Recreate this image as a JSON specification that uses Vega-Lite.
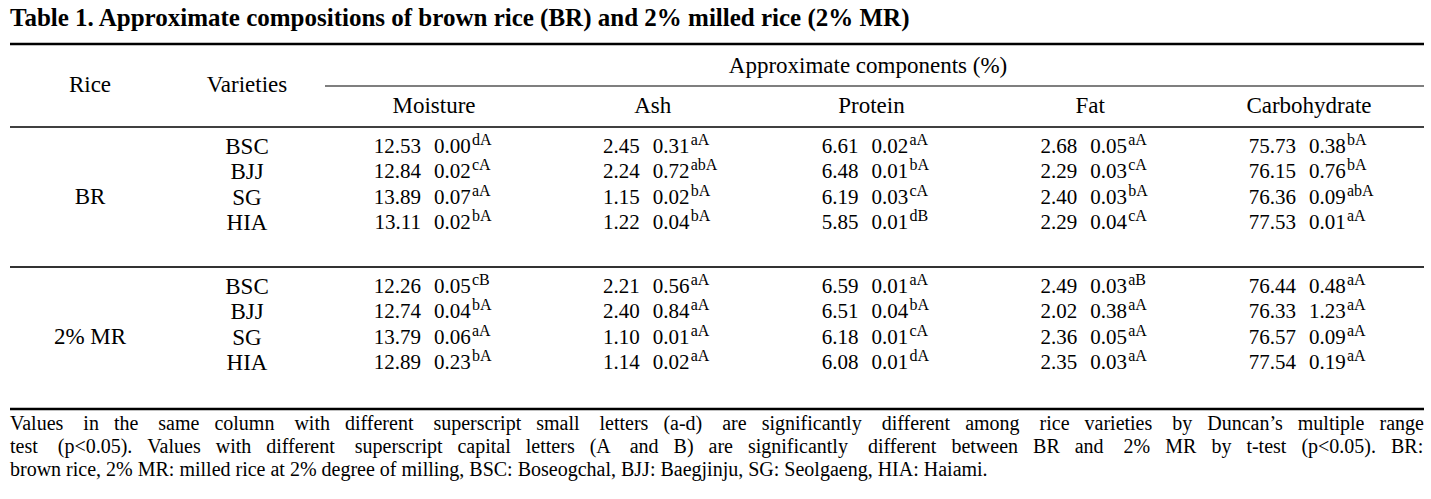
{
  "$schema": "https://vega.github.io/schema/vega-lite/v6.json",
  "width": 1431,
  "height": 499,
  "autosize": {"type": "fit", "contains": "padding"},
  "padding": 0,
  "background": "white",
  "config": {
    "view": {"stroke": null},
    "text": {"font": "Liberation Serif", "fontSize": 23, "color": "black"}
  },
  "datasets": {
    "cells": [
      {"rice": "BR", "variety": "BSC", "component": "Moisture", "mean": 12.53, "sd": 0.00, "sig": "dA"},
      {"rice": "BR", "variety": "BSC", "component": "Ash", "mean": 2.45, "sd": 0.31, "sig": "aA"},
      {"rice": "BR", "variety": "BSC", "component": "Protein", "mean": 6.61, "sd": 0.02, "sig": "aA"},
      {"rice": "BR", "variety": "BSC", "component": "Fat", "mean": 2.68, "sd": 0.05, "sig": "aA"},
      {"rice": "BR", "variety": "BSC", "component": "Carbohydrate", "mean": 75.73, "sd": 0.38, "sig": "bA"},
      {"rice": "BR", "variety": "BJJ", "component": "Moisture", "mean": 12.84, "sd": 0.02, "sig": "cA"},
      {"rice": "BR", "variety": "BJJ", "component": "Ash", "mean": 2.24, "sd": 0.72, "sig": "abA"},
      {"rice": "BR", "variety": "BJJ", "component": "Protein", "mean": 6.48, "sd": 0.01, "sig": "bA"},
      {"rice": "BR", "variety": "BJJ", "component": "Fat", "mean": 2.29, "sd": 0.03, "sig": "cA"},
      {"rice": "BR", "variety": "BJJ", "component": "Carbohydrate", "mean": 76.15, "sd": 0.76, "sig": "bA"},
      {"rice": "BR", "variety": "SG", "component": "Moisture", "mean": 13.89, "sd": 0.07, "sig": "aA"},
      {"rice": "BR", "variety": "SG", "component": "Ash", "mean": 1.15, "sd": 0.02, "sig": "bA"},
      {"rice": "BR", "variety": "SG", "component": "Protein", "mean": 6.19, "sd": 0.03, "sig": "cA"},
      {"rice": "BR", "variety": "SG", "component": "Fat", "mean": 2.40, "sd": 0.03, "sig": "bA"},
      {"rice": "BR", "variety": "SG", "component": "Carbohydrate", "mean": 76.36, "sd": 0.09, "sig": "abA"},
      {"rice": "BR", "variety": "HIA", "component": "Moisture", "mean": 13.11, "sd": 0.02, "sig": "bA"},
      {"rice": "BR", "variety": "HIA", "component": "Ash", "mean": 1.22, "sd": 0.04, "sig": "bA"},
      {"rice": "BR", "variety": "HIA", "component": "Protein", "mean": 5.85, "sd": 0.01, "sig": "dB"},
      {"rice": "BR", "variety": "HIA", "component": "Fat", "mean": 2.29, "sd": 0.04, "sig": "cA"},
      {"rice": "BR", "variety": "HIA", "component": "Carbohydrate", "mean": 77.53, "sd": 0.01, "sig": "aA"},
      {"rice": "2% MR", "variety": "BSC", "component": "Moisture", "mean": 12.26, "sd": 0.05, "sig": "cB"},
      {"rice": "2% MR", "variety": "BSC", "component": "Ash", "mean": 2.21, "sd": 0.56, "sig": "aA"},
      {"rice": "2% MR", "variety": "BSC", "component": "Protein", "mean": 6.59, "sd": 0.01, "sig": "aA"},
      {"rice": "2% MR", "variety": "BSC", "component": "Fat", "mean": 2.49, "sd": 0.03, "sig": "aB"},
      {"rice": "2% MR", "variety": "BSC", "component": "Carbohydrate", "mean": 76.44, "sd": 0.48, "sig": "aA"},
      {"rice": "2% MR", "variety": "BJJ", "component": "Moisture", "mean": 12.74, "sd": 0.04, "sig": "bA"},
      {"rice": "2% MR", "variety": "BJJ", "component": "Ash", "mean": 2.40, "sd": 0.84, "sig": "aA"},
      {"rice": "2% MR", "variety": "BJJ", "component": "Protein", "mean": 6.51, "sd": 0.04, "sig": "bA"},
      {"rice": "2% MR", "variety": "BJJ", "component": "Fat", "mean": 2.02, "sd": 0.38, "sig": "aA"},
      {"rice": "2% MR", "variety": "BJJ", "component": "Carbohydrate", "mean": 76.33, "sd": 1.23, "sig": "aA"},
      {"rice": "2% MR", "variety": "SG", "component": "Moisture", "mean": 13.79, "sd": 0.06, "sig": "aA"},
      {"rice": "2% MR", "variety": "SG", "component": "Ash", "mean": 1.10, "sd": 0.01, "sig": "aA"},
      {"rice": "2% MR", "variety": "SG", "component": "Protein", "mean": 6.18, "sd": 0.01, "sig": "cA"},
      {"rice": "2% MR", "variety": "SG", "component": "Fat", "mean": 2.36, "sd": 0.05, "sig": "aA"},
      {"rice": "2% MR", "variety": "SG", "component": "Carbohydrate", "mean": 76.57, "sd": 0.09, "sig": "aA"},
      {"rice": "2% MR", "variety": "HIA", "component": "Moisture", "mean": 12.89, "sd": 0.23, "sig": "bA"},
      {"rice": "2% MR", "variety": "HIA", "component": "Ash", "mean": 1.14, "sd": 0.02, "sig": "aA"},
      {"rice": "2% MR", "variety": "HIA", "component": "Protein", "mean": 6.08, "sd": 0.01, "sig": "dA"},
      {"rice": "2% MR", "variety": "HIA", "component": "Fat", "mean": 2.35, "sd": 0.03, "sig": "aA"},
      {"rice": "2% MR", "variety": "HIA", "component": "Carbohydrate", "mean": 77.54, "sd": 0.19, "sig": "aA"}
    ],
    "components": [
      {"component": "Moisture"},
      {"component": "Ash"},
      {"component": "Protein"},
      {"component": "Fat"},
      {"component": "Carbohydrate"}
    ],
    "rices": [{"rice": "BR"}, {"rice": "2% MR"}],
    "one": [{}]
  },
  "layer": [
    {
      "data": {"name": "one"},
      "mark": {"type": "text", "text": "Table 1. Approximate compositions of brown rice (BR) and 2% milled rice (2% MR)", "align": "left", "fontWeight": "bold", "fontSize": 25},
      "encoding": {"x": {"value": 10}, "y": {"value": 18}}
    },
    {
      "data": {"name": "one"},
      "mark": {"type": "rule", "color": "black", "strokeWidth": 2.5},
      "encoding": {"x": {"value": 10}, "x2": {"value": 1424}, "y": {"value": 44}}
    },
    {
      "data": {"name": "one"},
      "mark": {"type": "rule", "color": "black", "strokeWidth": 1.2},
      "encoding": {"x": {"value": 325}, "x2": {"value": 1424}, "y": {"value": 86}}
    },
    {
      "data": {"name": "one"},
      "mark": {"type": "rule", "color": "black", "strokeWidth": 1.5},
      "encoding": {"x": {"value": 10}, "x2": {"value": 1424}, "y": {"value": 127}}
    },
    {
      "data": {"name": "one"},
      "mark": {"type": "rule", "color": "#333333", "strokeWidth": 2},
      "encoding": {"x": {"value": 10}, "x2": {"value": 1424}, "y": {"value": 267}}
    },
    {
      "data": {"name": "one"},
      "mark": {"type": "rule", "color": "black", "strokeWidth": 2.5},
      "encoding": {"x": {"value": 10}, "x2": {"value": 1424}, "y": {"value": 409}}
    },
    {
      "data": {"name": "one"},
      "mark": {"type": "text", "text": "Rice"},
      "encoding": {"x": {"value": 90}, "y": {"value": 85}}
    },
    {
      "data": {"name": "one"},
      "mark": {"type": "text", "text": "Varieties"},
      "encoding": {"x": {"value": 247}, "y": {"value": 85}}
    },
    {
      "data": {"name": "one"},
      "mark": {"type": "text", "text": "Approximate components (%)"},
      "encoding": {"x": {"value": 868}, "y": {"value": 66}}
    },
    {
      "data": {"name": "components"},
      "mark": {"type": "text"},
      "encoding": {
        "x": {"field": "component", "type": "nominal", "scale": {"type": "point", "domain": ["Moisture", "Ash", "Protein", "Fat", "Carbohydrate"], "range": [434, 1309], "padding": 0}, "axis": null},
        "y": {"value": 106},
        "text": {"field": "component"}
      }
    },
    {
      "data": {"name": "rices"},
      "mark": {"type": "text"},
      "encoding": {
        "x": {"value": 90},
        "y": {"field": "rice", "type": "nominal", "scale": {"type": "band", "domain": ["BR", "2% MR"], "range": [127, 407], "paddingInner": 0, "paddingOuter": 0}, "axis": null},
        "text": {"field": "rice"}
      }
    },
    {
      "data": {"name": "cells"},
      "transform": [{"filter": "datum.component === 'Moisture'"}],
      "mark": {"type": "text"},
      "encoding": {
        "x": {"value": 247},
        "y": {"field": "rice", "type": "nominal", "scale": {"type": "band", "domain": ["BR", "2% MR"], "range": [127, 407], "paddingInner": 0, "paddingOuter": 0}, "axis": null},
        "yOffset": {"field": "variety", "type": "nominal", "scale": {"type": "point", "domain": ["BSC", "BJJ", "SG", "HIA"], "range": [20, 96], "padding": 0}},
        "text": {"field": "variety"}
      }
    },
    {
      "data": {"name": "cells"},
      "mark": {"type": "text", "align": "right", "dx": -13, "fontSize": 21},
      "encoding": {
        "x": {"field": "component", "type": "nominal", "scale": {"type": "point", "domain": ["Moisture", "Ash", "Protein", "Fat", "Carbohydrate"], "range": [434, 1309], "padding": 0}, "axis": null},
        "y": {"field": "rice", "type": "nominal", "scale": {"type": "band", "domain": ["BR", "2% MR"], "range": [127, 407], "paddingInner": 0, "paddingOuter": 0}, "axis": null},
        "yOffset": {"field": "variety", "type": "nominal", "scale": {"type": "point", "domain": ["BSC", "BJJ", "SG", "HIA"], "range": [20, 96], "padding": 0}},
        "text": {"field": "mean", "type": "quantitative", "format": ".2f"}
      }
    },
    {
      "data": {"name": "cells"},
      "mark": {"type": "text", "align": "left", "dx": 0, "fontSize": 21},
      "encoding": {
        "x": {"field": "component", "type": "nominal", "scale": {"type": "point", "domain": ["Moisture", "Ash", "Protein", "Fat", "Carbohydrate"], "range": [434, 1309], "padding": 0}, "axis": null},
        "y": {"field": "rice", "type": "nominal", "scale": {"type": "band", "domain": ["BR", "2% MR"], "range": [127, 407], "paddingInner": 0, "paddingOuter": 0}, "axis": null},
        "yOffset": {"field": "variety", "type": "nominal", "scale": {"type": "point", "domain": ["BSC", "BJJ", "SG", "HIA"], "range": [20, 96], "padding": 0}},
        "text": {"field": "sd", "type": "quantitative", "format": ".2f"}
      }
    },
    {
      "data": {"name": "cells"},
      "mark": {"type": "text", "align": "left", "dx": 38, "dy": -7, "fontSize": 16},
      "encoding": {
        "x": {"field": "component", "type": "nominal", "scale": {"type": "point", "domain": ["Moisture", "Ash", "Protein", "Fat", "Carbohydrate"], "range": [434, 1309], "padding": 0}, "axis": null},
        "y": {"field": "rice", "type": "nominal", "scale": {"type": "band", "domain": ["BR", "2% MR"], "range": [127, 407], "paddingInner": 0, "paddingOuter": 0}, "axis": null},
        "yOffset": {"field": "variety", "type": "nominal", "scale": {"type": "point", "domain": ["BSC", "BJJ", "SG", "HIA"], "range": [20, 96], "padding": 0}},
        "text": {"field": "sig", "type": "nominal"}
      }
    },
    {
      "data": {"name": "one"},
      "mark": {
        "type": "text",
        "align": "left",
        "baseline": "top",
        "fontSize": 20,
        "lineHeight": 23,
        "text": [
          "Values \u00a0\u00a0\u00a0in \u00a0\u00a0the \u00a0\u00a0\u00a0same \u00a0\u00a0column \u00a0\u00a0\u00a0with \u00a0\u00a0different \u00a0\u00a0\u00a0superscript \u00a0\u00a0small \u00a0\u00a0\u00a0letters \u00a0\u00a0(a-d) \u00a0\u00a0\u00a0are \u00a0\u00a0significantly \u00a0\u00a0\u00a0different \u00a0\u00a0among \u00a0\u00a0\u00a0rice \u00a0\u00a0varieties \u00a0\u00a0\u00a0by \u00a0\u00a0Duncan’s \u00a0\u00a0multiple \u00a0\u00a0range",
          "test \u00a0\u00a0\u00a0(p<0.05). \u00a0\u00a0Values \u00a0\u00a0with \u00a0\u00a0different \u00a0\u00a0\u00a0superscript \u00a0\u00a0capital \u00a0\u00a0letters \u00a0\u00a0(A \u00a0\u00a0\u00a0and \u00a0\u00a0B) \u00a0\u00a0are \u00a0\u00a0significantly \u00a0\u00a0\u00a0different \u00a0\u00a0between \u00a0\u00a0BR \u00a0\u00a0and \u00a0\u00a0\u00a02% \u00a0\u00a0MR \u00a0\u00a0by \u00a0\u00a0t-test \u00a0\u00a0(p<0.05). \u00a0\u00a0BR:",
          "brown rice, 2% MR: milled rice at 2% degree of milling, BSC: Boseogchal, BJJ: Baegjinju, SG: Seolgaeng, HIA: Haiami."
        ]
      },
      "encoding": {"x": {"value": 10}, "y": {"value": 414}}
    }
  ]
}
